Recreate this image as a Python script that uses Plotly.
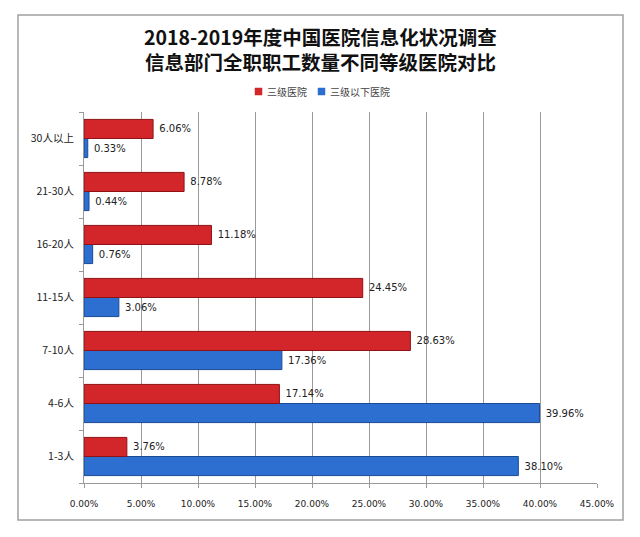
import plotly.graph_objects as go

categories = ["1-3人", "4-6人", "7-10人", "11-15人", "16-20人", "21-30人", "30人以上"]
tier3 = [3.76, 17.14, 28.63, 24.45, 11.18, 8.78, 6.06]
below3 = [38.10, 39.96, 17.36, 3.06, 0.76, 0.44, 0.33]
series_names = ["三级医院", "三级以下医院"]
x_ticks = [0, 5, 10, 15, 20, 25, 30, 35, 40, 45]
x_tick_labels = ["%.2f%%" % v for v in x_ticks]
title_lines = ["2018-2019年度中国医院信息化状况调查", "信息部门全职职工数量不同等级医院对比"]

W, H = 640, 537
L, R, T, B = 84, 597, 112, 483
pw, ph = R - L, B - T

def px_x(x):
    return (x - L) / pw

def px_y(y):
    return (B - y) / ph

FONT = "Noto Sans CJK SC, DejaVu Sans, sans-serif"
RED = "#d2262a"
BLUE = "#2c6fd0"

fig = go.Figure()
fig.add_trace(go.Bar(
    y=categories, x=below3, name=series_names[1], orientation="h",
    marker=dict(color=BLUE, line=dict(color="#1a4a94", width=1)),
    text=below3, texttemplate=" %{x:.2f}%", textposition="outside",
    textfont=dict(size=10, color="#222222", family="DejaVu Sans"),
    cliponaxis=False, showlegend=False,
))
fig.add_trace(go.Bar(
    y=categories, x=tier3, name=series_names[0], orientation="h",
    marker=dict(color=RED, line=dict(color="#8e1215", width=1)),
    text=tier3, texttemplate=" %{x:.2f}%", textposition="outside",
    textfont=dict(size=10, color="#222222", family="DejaVu Sans"),
    cliponaxis=False, showlegend=False,
))

fig.update_layout(
    width=W, height=H,
    margin=dict(l=L, r=W - R, t=T, b=H - B, autoexpand=False),
    paper_bgcolor="white", plot_bgcolor="white",
    barmode="group", bargap=0.28, bargroupgap=0,
    font=dict(family=FONT, size=10, color="#222222"),
    showlegend=False,
    xaxis=dict(range=[0, 45], tickvals=x_ticks, ticktext=x_tick_labels,
               showgrid=True, gridcolor="#9a9a9a", gridwidth=1,
               showline=True, linecolor="#9a9a9a", ticks="outside", ticklen=4,
               tickcolor="#9a9a9a", ticklabelstandoff=8,
               tickfont=dict(size=9, family="DejaVu Sans", color="#222222"),
               zeroline=False, fixedrange=True, automargin=False),
    yaxis=dict(showline=True, linecolor="#9a9a9a", ticks="outside", ticklen=4,
               tickcolor="#9a9a9a", tickson="boundaries", automargin=False,
               ticklabelstandoff=7, fixedrange=True,
               tickfont=dict(size=10.5, color="#222222")),
)

# outer frame
fig.add_shape(type="rect", xref="paper", yref="paper",
              x0=px_x(18), x1=px_x(623), y0=px_y(520), y1=px_y(15),
              line=dict(color="#a0a0a0", width=1.5), layer="below")

# legend (custom, to match compact square markers)
legend_items = [(series_names[0], RED, 255, 265), (series_names[1], BLUE, 318, 328)]
for name, col, sx, tx in legend_items:
    fig.add_shape(type="rect", xref="paper", yref="paper",
                  x0=px_x(sx), x1=px_x(sx + 7), y0=px_y(95), y1=px_y(88),
                  fillcolor=col, line=dict(color=col, width=0.5))
    fig.add_annotation(text=name, xref="paper", yref="paper",
                       x=px_x(tx), y=px_y(91.5), xanchor="left", yanchor="middle",
                       showarrow=False, font=dict(size=10, color="#444444", family=FONT))

# title
fig.add_annotation(text="<b>" + title_lines[0] + "</b><br><b>" + title_lines[1] + "</b>",
                   xref="paper", yref="paper",
                   x=px_x(320), y=px_y(49), xanchor="center", yanchor="middle",
                   showarrow=False, font=dict(size=19.5, color="#111111", family=FONT))

fig.write_html("out.html", config={"displayModeBar": False},
               post_script="document.body.style.margin='0';")
